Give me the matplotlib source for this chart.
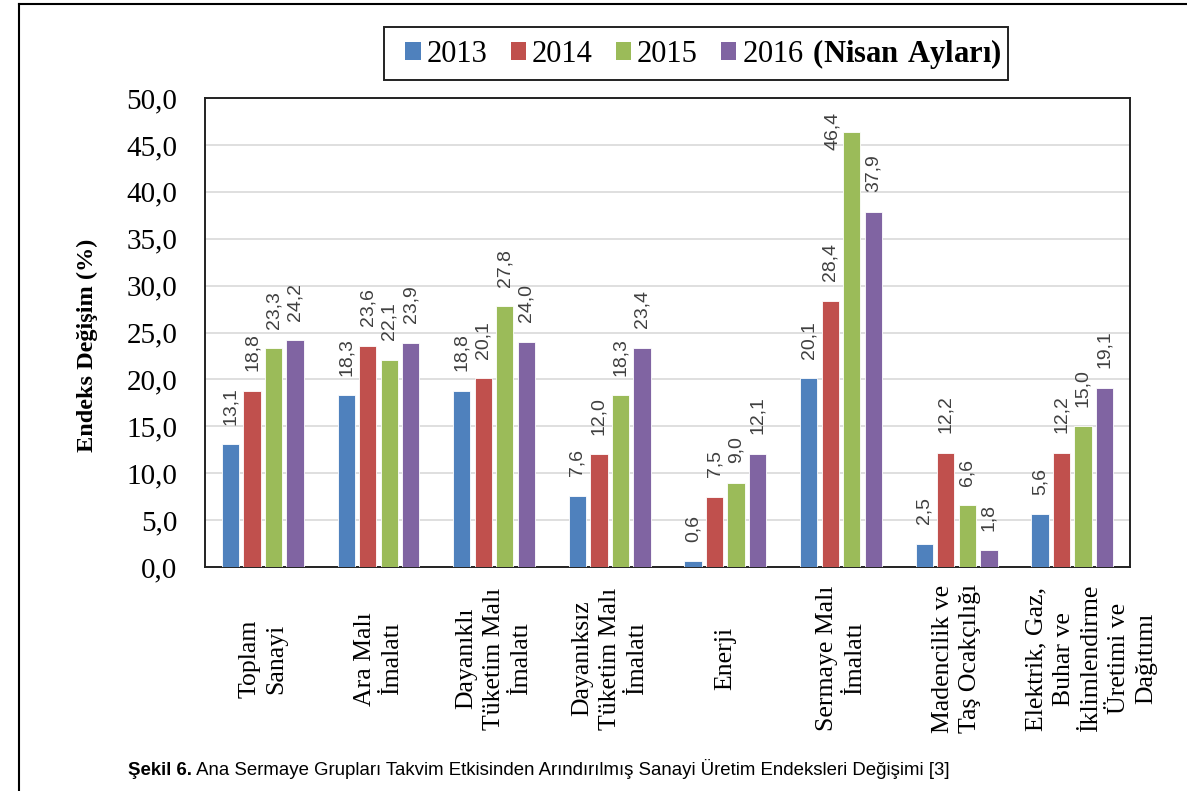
# Endeks degisimi - ana sermaye gruplari (Nisan aylari)
import matplotlib
matplotlib.use("Agg")
import matplotlib.pyplot as plt
import matplotlib.transforms as mtransforms
import numpy as np
from matplotlib.lines import Line2D
from matplotlib.patches import Patch, Rectangle

plt.rcParams['mathtext.fontset'] = 'custom'
plt.rcParams['mathtext.rm'] = 'Liberation Serif'
plt.rcParams['mathtext.bf'] = 'Liberation Serif:bold'

# categories
categories = ["Toplam\nSanayi", "Ara Malı\nİmalatı", "Dayanıklı\nTüketim Malı\nİmalatı",
              "Dayanıksız\nTüketim Malı\nİmalatı", "Enerji", "Sermaye Malı\nİmalatı",
              "Madencilik ve\nTaş Ocakçılığı",
              "Elektrik, Gaz,\nBuhar ve\nİklimlendirme\nÜretimi ve\nDağıtımı"]

years = ["2013", "2014", "2015", "2016"]
v2013 = [13.1, 18.3, 18.8, 7.6, 0.6, 20.1, 2.5, 5.6]
v2014 = [18.8, 23.6, 20.1, 12.0, 7.5, 28.4, 12.2, 12.2]
v2015 = [23.3, 22.1, 27.8, 18.3, 9.0, 46.4, 6.6, 15.0]
v2016 = [24.2, 23.9, 24.0, 23.4, 12.1, 37.9, 1.8, 19.1]
series = [v2013, v2014, v2015, v2016]
colors = ["#4F81BD", "#C0504D", "#9BBB59", "#8064A2"]

fig = plt.figure(figsize=(11.87, 7.91), dpi=100)
ax = fig.add_axes([0.1727, 0.2832, 0.7793, 0.5928])

x = np.arange(len(categories))
step = 0.186
width = 0.15
for i, (vals, c) in enumerate(zip(series, colors)):
    pos = x + (i - 1.5) * step
    ax.bar(pos, vals, width=width, color=c, edgecolor="white", linewidth=0.6, zorder=3)
    for p, v in zip(pos, vals):
        # labels that would leave the plot area are pushed down and to the left
        off = (0, 14) if v < 44 else (-14, -13)
        ax.annotate(f"{v:.1f}".replace(".", ","), (p, v), xytext=off,
                    textcoords="offset points", rotation=90, ha="center", va="bottom",
                    fontsize=14, color="#404040", family="Liberation Sans", zorder=4)

ax.set_xlim(-0.5, len(categories) - 0.5)
ax.set_ylim(0, 50)
ax.set_yticks(np.arange(0, 50.1, 5))
ax.set_yticklabels([f"{t:.1f}".replace(".", ",") for t in np.arange(0, 50.1, 5)],
                   family="Liberation Serif", fontsize=21)
ax.set_xticks(x)
ax.set_xticklabels(categories, rotation=90, family="Liberation Serif", fontsize=18.5,
                   va="center", ha="center", multialignment="center", linespacing=1.32)
ax.tick_params(axis="x", length=0, pad=66)
ax.tick_params(axis="y", length=0, pad=20)
ax.yaxis.grid(True, color="#D9D9D9", linewidth=1.2, zorder=0)
ax.set_axisbelow(True)
for s in ax.spines.values():
    s.set_linewidth(1.4)
    s.set_color("#222222")

# the long last label sits a bit to the right in the original
last = ax.get_xticklabels()[-1]
last.set_transform(last.get_transform() + mtransforms.ScaledTranslation(0.19, 0, fig.dpi_scale_trans))

ax.set_ylabel("Endeks Değişim (%)", family="Liberation Serif", fontweight="bold", fontsize=17.5)
ax.yaxis.set_label_coords(-0.116, 0.473)

# legend
handles = [Patch(facecolor=c) for c in colors]
labels = years[:3] + [r"2016$\mathbf{\ (Nisan\ Ayları)}$"]
leg = fig.legend(handles, labels, loc="center", bbox_to_anchor=(0.5927, 0.932),
                 ncol=4, prop={"family": "Liberation Serif", "size": 22},
                 handlelength=0.5, handleheight=0.5, handletextpad=0.2,
                 columnspacing=0.75, frameon=False)
fig.add_artist(Rectangle((0.3235, 0.8989), 0.5257, 0.067, transform=fig.transFigure,
                         facecolor="none", edgecolor="#222222", lw=1.4))

# outer frame of the figure
fig.add_artist(Line2D([0.016, 0.016], [0.0, 0.995], color="black", lw=1.5))
fig.add_artist(Line2D([0.016, 1.0], [0.995, 0.995], color="black", lw=1.5))

# caption
t1 = fig.text(0.108, 0.02, "Şekil 6.", family=["Liberation Sans Narrow", "Liberation Sans"],
              fontweight="bold", fontsize=13.4, va="baseline")
fig.add_artist(plt.Annotation(" Ana Sermaye Grupları Takvim Etkisinden Arındırılmış Sanayi Üretim Endeksleri Değişimi [3]",
                              xy=(1, 0), xycoords=t1, va="bottom",
                              family=["Liberation Sans Narrow", "Liberation Sans"], fontsize=13.4))

fig.savefig("out.png", dpi=100)
